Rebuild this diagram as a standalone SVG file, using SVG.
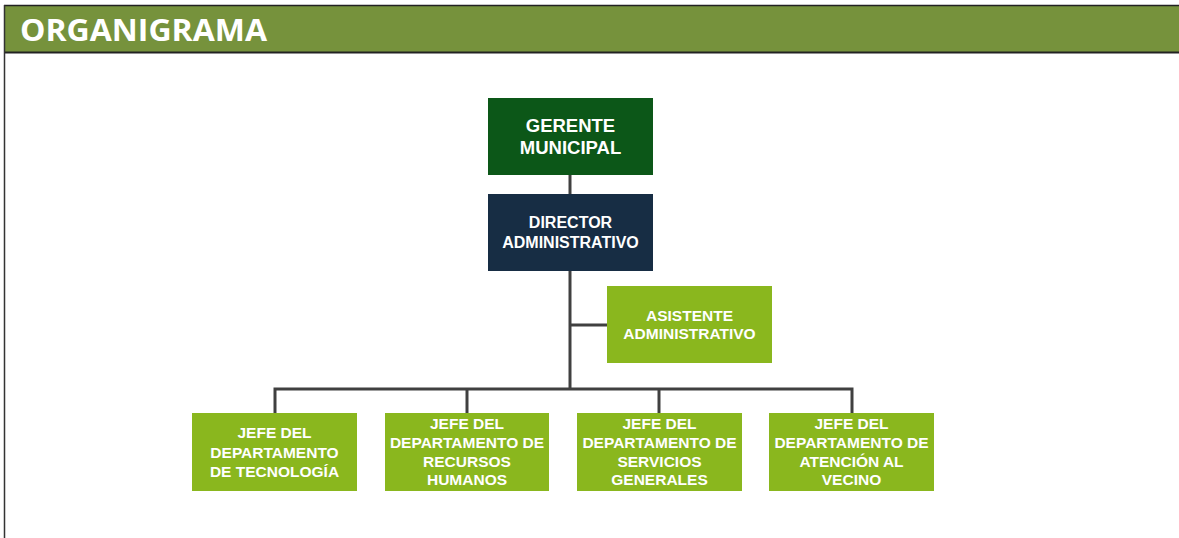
<svg xmlns="http://www.w3.org/2000/svg" width="1179" height="538" viewBox="0 0 1179 538">
<style>
.t{font-family:"Liberation Sans",Arial,sans-serif;font-weight:bold;fill:#fff;text-anchor:middle}
.c{stroke:#404040;stroke-width:3;fill:none}
.g{fill:#8AB71E}
</style>
<rect x="0" y="0" width="1179" height="538" fill="#fff"/>
<g id="header">
<rect x="5" y="6" width="1174" height="46" fill="#76923C"/>
<line x1="4" y1="5.5" x2="1179" y2="5.5" stroke="#222" stroke-width="1.5"/>
<line x1="4" y1="52.5" x2="1179" y2="52.5" stroke="#222" stroke-width="2"/>
<line x1="4.5" y1="5" x2="4.5" y2="538" stroke="#333" stroke-width="1.5"/>
<text x="20" y="41" font-family="'Open Sans','Liberation Sans',sans-serif" font-weight="bold" font-size="31" fill="#fff" textLength="247" lengthAdjust="spacingAndGlyphs">ORGANIGRAMA</text>
</g>
<g id="connectors">
<line class="c" x1="570" y1="174" x2="570" y2="194"/>
<line class="c" x1="570" y1="270" x2="570" y2="389"/>
<line class="c" x1="570" y1="325" x2="607" y2="325"/>
<polyline class="c" points="275,413 275,389 852,389 852,413"/>
<line class="c" x1="467" y1="389" x2="467" y2="413"/>
<line class="c" x1="659" y1="389" x2="659" y2="413"/>
</g>
<g id="gerente">
<rect x="488" y="98" width="165" height="77" fill="#0C5718"/>
<text class="t" font-size="18.5"><tspan x="570.5" y="131.5">GERENTE</tspan><tspan x="570.5" y="153.5">MUNICIPAL</tspan></text>
</g>
<g id="director">
<rect x="488" y="194" width="165" height="77" fill="#172D44"/>
<text class="t" font-size="16"><tspan x="570.5" y="228">DIRECTOR</tspan><tspan x="570.5" y="248">ADMINISTRATIVO</tspan></text>
</g>
<g id="asistente">
<rect class="g" x="607" y="286" width="165" height="77"/>
<text class="t" font-size="15.5"><tspan x="689.5" y="320.5">ASISTENTE</tspan><tspan x="689.5" y="338.5">ADMINISTRATIVO</tspan></text>
</g>
<g id="tecnologia">
<rect class="g" x="192" y="413" width="165" height="78"/>
<text class="t" font-size="15.5"><tspan x="274.5" y="437.5">JEFE DEL</tspan><tspan x="274.5" y="457.5">DEPARTAMENTO</tspan><tspan x="274.5" y="476.5">DE TECNOLOGÍA</tspan></text>
</g>
<g id="recursos">
<rect class="g" x="385" y="413" width="164" height="78"/>
<text class="t" font-size="15.5"><tspan x="467" y="428.5">JEFE DEL</tspan><tspan x="467" y="447.5">DEPARTAMENTO DE</tspan><tspan x="467" y="466.5">RECURSOS</tspan><tspan x="467" y="484.5">HUMANOS</tspan></text>
</g>
<g id="servicios">
<rect class="g" x="577" y="413" width="165" height="78"/>
<text class="t" font-size="15.5"><tspan x="659.5" y="428.5">JEFE DEL</tspan><tspan x="659.5" y="447.5">DEPARTAMENTO DE</tspan><tspan x="659.5" y="466.5">SERVICIOS</tspan><tspan x="659.5" y="484.5">GENERALES</tspan></text>
</g>
<g id="atencion">
<rect class="g" x="769" y="413" width="165" height="78"/>
<text class="t" font-size="15.5"><tspan x="851.5" y="428.5">JEFE DEL</tspan><tspan x="851.5" y="447.5">DEPARTAMENTO DE</tspan><tspan x="851.5" y="466.5">ATENCIÓN AL</tspan><tspan x="851.5" y="484.5">VECINO</tspan></text>
</g>
</svg>
